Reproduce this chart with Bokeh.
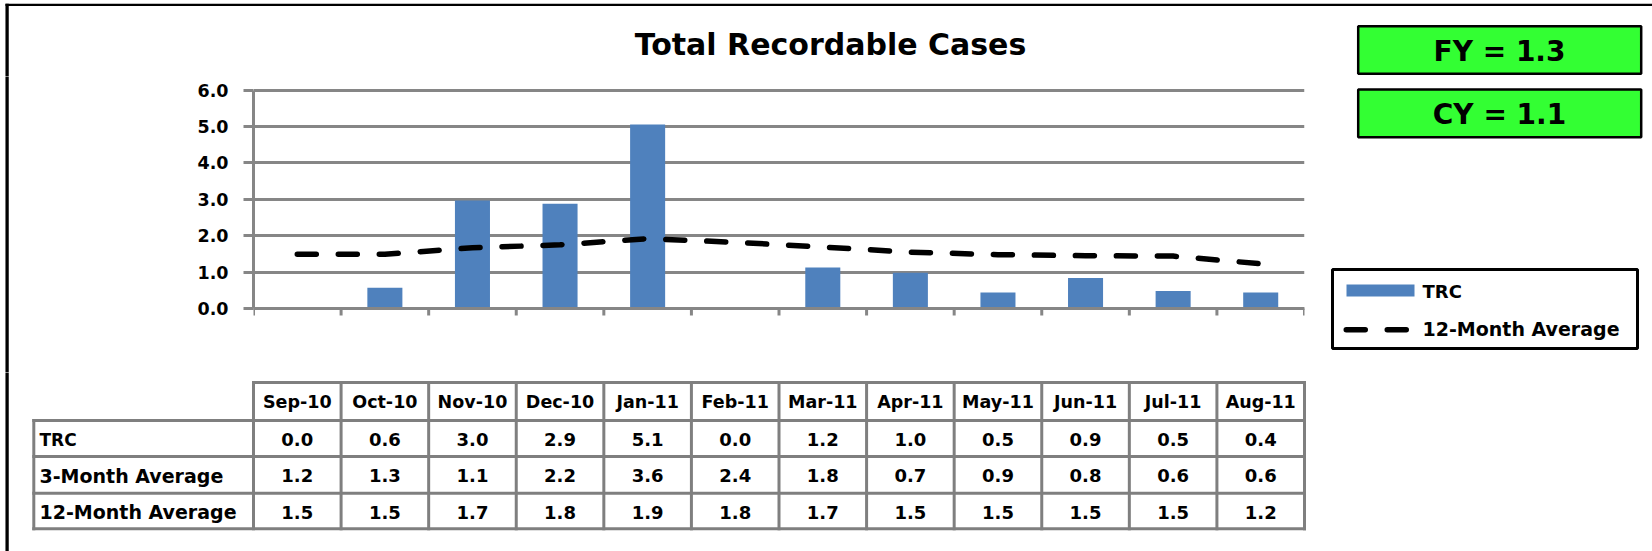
from bokeh.plotting import figure
from bokeh.models import Range1d, FixedTicker, NumeralTickFormatter
from bokeh.layouts import column, row
from bokeh.embed import file_html
from bokeh.resources import INLINE
from bokeh.core.properties import value

# ---------------- data ----------------
chart_title = "Total Recordable Cases"
months = ["Sep-10", "Oct-10", "Nov-10", "Dec-10", "Jan-11", "Feb-11",
          "Mar-11", "Apr-11", "May-11", "Jun-11", "Jul-11", "Aug-11"]
# bar heights / line points
trc_bars = [0.0, 0.57, 2.97, 2.88, 5.06, 0.0, 1.13, 0.98, 0.44, 0.84, 0.48, 0.44]
avg12_line = [1.49, 1.49, 1.67, 1.75, 1.92, 1.82, 1.69, 1.55, 1.48, 1.45, 1.44, 1.23]
# values printed in the data table
table_trc = [0.0, 0.6, 3.0, 2.9, 5.1, 0.0, 1.2, 1.0, 0.5, 0.9, 0.5, 0.4]
table_avg3 = [1.2, 1.3, 1.1, 2.2, 3.6, 2.4, 1.8, 0.7, 0.9, 0.8, 0.6, 0.6]
table_avg12 = [1.5, 1.5, 1.7, 1.8, 1.9, 1.8, 1.7, 1.5, 1.5, 1.5, 1.5, 1.2]
row_labels = ["TRC", "3-Month Average", "12-Month Average"]
y_ticks = [0, 1, 2, 3, 4, 5, 6]
fy_value = 1.3
cy_value = 1.1
legend_labels = ["TRC", "12-Month Average"]

# ---------------- styles / layout constants ----------------
FONT = value("DejaVu Sans")
BAR = "#4F81BD"
GRID = "#868686"
TBL = "#7F7F7F"
GREEN = "#33FF33"
W, H = 1652, 551
PX_L, PX_R = 253, 1304              # plot frame left/right on the page
Y0_PX, Y6_PX = 308.0, 89.7          # page y of value 0 and value 6
n = len(months)
ppu = (PX_R - PX_L) / n              # pixels per category
kpy = (Y0_PX - Y6_PX) / 6            # pixels per value unit
HDR_H = 76
ROW_B = 372
STRIP_W, SIDE_W = 185, 332
CHART_W = W - STRIP_W - SIDE_W
centers = [i + 0.5 for i in range(n)]


def blank(width, height, xr, yr):
    p = figure(width=width, height=height, x_range=xr, y_range=yr,
               x_axis_type=None, y_axis_type=None, min_border=0,
               toolbar_location=None, output_backend="svg", title=None)
    p.outline_line_color = None
    p.background_fill_color = "white"
    p.border_fill_color = "white"
    return p


def btext(p, x, y, txt, size, align="center", **kw):
    p.text(x=x, y=y, text=txt, text_font=FONT, text_font_style="bold",
           text_font_size=value(size), text_align=align,
           text_baseline="middle", text_color="black", **kw)


# ---------------- header (frame lines, title, FY box) ----------------
header = blank(W, HDR_H, Range1d(0, W), Range1d(HDR_H, 0))
header.segment(x0=[5], y0=[4.3], x1=[W], y1=[4.3], line_color="black", line_width=2.2)
header.segment(x0=[6.6], y0=[3.3], x1=[6.6], y1=[HDR_H + 6], line_color="black", line_width=3.3)
btext(header, [830], [43.5], [chart_title], "30px")
header.quad(left=[1357.7], right=[1640.7], top=[25.7], bottom=[73.3],
            fill_color=GREEN, line_color="black", line_width=2.5)
btext(header, [1499], [50.5], ["FY = %.1f" % fy_value], "28px")

# ---------------- left strip (frame line) ----------------
strip = blank(STRIP_W, ROW_B - HDR_H, Range1d(0, STRIP_W), Range1d(ROW_B, HDR_H))
strip.segment(x0=[6.6], y0=[HDR_H - 6], x1=[6.6], y1=[ROW_B + 6], line_color="black",
              line_width=3.3)

# ---------------- chart ----------------
chart = figure(width=CHART_W, height=ROW_B - HDR_H,
               x_range=Range1d(0, n),
               y_range=Range1d(-(ROW_B - Y0_PX) / kpy, (Y0_PX - HDR_H) / kpy),
               x_axis_type=None,
               min_border_left=PX_L - STRIP_W, min_border_right=STRIP_W + CHART_W - PX_R,
               min_border_top=0, min_border_bottom=0,
               toolbar_location=None, output_backend="svg", title=None)
chart.outline_line_color = None
chart.background_fill_color = "white"
chart.ygrid.ticker = FixedTicker(ticks=y_ticks)
chart.ygrid.grid_line_color = GRID
chart.ygrid.grid_line_width = 3

ya = chart.yaxis[0]
ya.ticker = FixedTicker(ticks=y_ticks)
ya.formatter = NumeralTickFormatter(format="0.0")
ya.bounds = (0, 6)
ya.axis_line_color = GRID
ya.axis_line_width = 3
ya.major_tick_line_color = GRID
ya.major_tick_line_width = 3
ya.major_tick_out = 10
ya.major_tick_in = 0
ya.minor_tick_line_color = None
ya.major_label_standoff = 15
ya.major_label_text_font = "DejaVu Sans"
ya.major_label_text_font_style = "bold"
ya.major_label_text_font_size = "17.5px"
ya.major_label_text_color = "black"

chart.vbar(x=centers, top=trc_bars, bottom=0, width=0.4, fill_color=BAR, line_color=None)
# category axis line and boundary ticks
chart.segment(x0=[0], y0=[0], x1=[n], y1=[0], line_color=GRID, line_width=3)
chart.segment(x0=list(range(n + 1)), y0=[0] * (n + 1), x1=list(range(n + 1)),
              y1=[-7 / kpy] * (n + 1), line_color=GRID, line_width=3)
chart.line(x=centers, y=avg12_line, line_color="black", line_width=5.5,
           line_dash="19 22", line_cap="round", line_join="round")

# ---------------- right side (CY box + legend) ----------------
side = blank(SIDE_W, ROW_B - HDR_H, Range1d(W - SIDE_W, W), Range1d(ROW_B, HDR_H))
side.quad(left=[1357.7], right=[1640.7], top=[89], bottom=[136.7],
          fill_color=GREEN, line_color="black", line_width=2.5)
btext(side, [1499], [113.5], ["CY = %.1f" % cy_value], "28px")
side.quad(left=[1332], right=[1637], top=[269], bottom=[348],
          fill_color="white", line_color="black", line_width=3)
side.quad(left=[1346], right=[1414], top=[284], bottom=[296], fill_color=BAR, line_color=None)
btext(side, [1422], [290.7], [legend_labels[0]], "18px", align="left")
side.line(x=[1345.75, 1407.25], y=[329.3, 329.3], line_color="black", line_width=5.5,
          line_dash="19 22", line_cap="round")
btext(side, [1422], [328.3], [legend_labels[1]], "19px", align="left")

# ---------------- data table ----------------
table = blank(W, H - ROW_B, Range1d(-PX_L / ppu, (W - PX_L) / ppu), Range1d(H, ROW_B))
table.extra_x_ranges = {"px": Range1d(0, W)}
table.segment(x0=[6.6], y0=[ROW_B - 6], x1=[6.6], y1=[H + 6], line_color="black",
              line_width=3.3, x_range_name="px")
lab_left = (33.3 - PX_L) / ppu
lab_text_x = (39 - PX_L) / ppu
hdr_top = 382
row_lines = [420, 456, 492.7, 528.3]
table.segment(x0=list(range(n + 1)), y0=[hdr_top] * (n + 1), x1=list(range(n + 1)),
              y1=[row_lines[-1]] * (n + 1), line_color=TBL, line_width=3, line_cap="square")
table.segment(x0=[lab_left], y0=[row_lines[0]], x1=[lab_left], y1=[row_lines[-1]],
              line_color=TBL, line_width=3, line_cap="square")
table.segment(x0=[0], y0=[hdr_top], x1=[n], y1=[hdr_top], line_color=TBL, line_width=3,
              line_cap="square")
table.segment(x0=[lab_left] * 4, y0=row_lines, x1=[n] * 4, y1=row_lines,
              line_color=TBL, line_width=3, line_cap="square")

btext(table, centers, [(hdr_top + row_lines[0]) / 2] * n, months, "17.5px")
tops = row_lines[:3]
bots = row_lines[1:]
for vals, t, b in zip([table_trc, table_avg3, table_avg12], tops, bots):
    btext(table, centers, [(t + b) / 2 + 1] * n, ["%.1f" % v for v in vals], "18px")
for lab, t, b in zip(row_labels, tops, bots):
    btext(table, [lab_text_x], [(t + b) / 2 + 1], [lab], "17px" if lab == "TRC" else "19px",
          align="left")

layout = column(header, row(strip, chart, side), table)
open("out.html", "w").write(file_html(layout, INLINE))
